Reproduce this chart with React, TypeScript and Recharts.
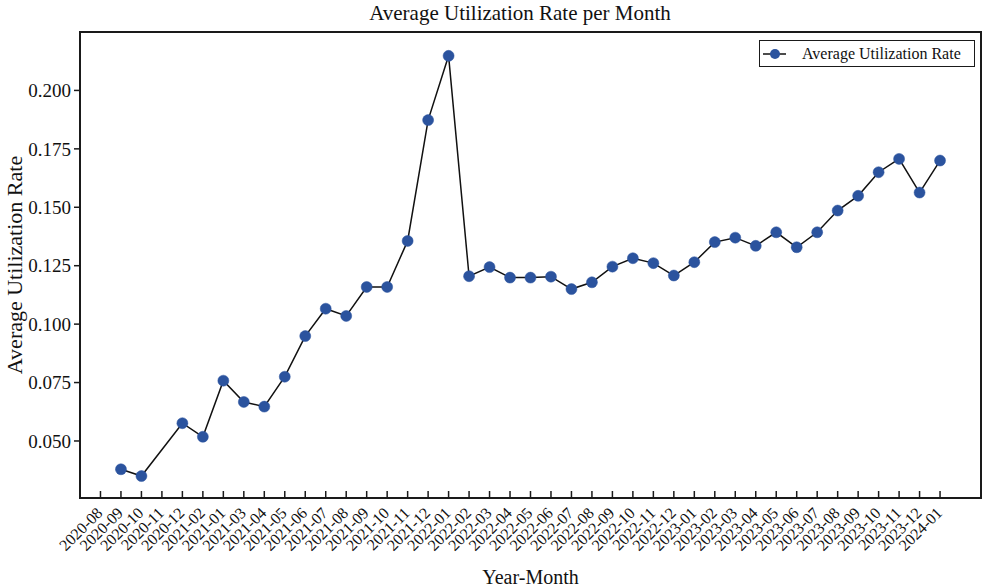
import React from 'react';
import { LineChart, Line, XAxis, YAxis, Legend, ReferenceArea } from 'recharts';

const tickLabels = [
  '2020-08', '2020-09', '2020-10', '2020-11', '2020-12',
  '2021-02', '2021-01', '2021-03', '2021-04', '2021-05', '2021-06', '2021-07', '2021-08', '2021-09', '2021-10', '2021-11', '2021-12',
  '2022-01', '2022-02', '2022-03', '2022-04', '2022-05', '2022-06', '2022-07', '2022-08', '2022-09', '2022-10', '2022-11', '2022-12',
  '2023-01', '2023-02', '2023-03', '2023-04', '2023-05', '2023-06', '2023-07', '2023-08', '2023-09', '2023-10', '2023-11', '2023-12',
  '2024-01',
];

const pointMonths = [
  '2020-09', '2020-10', '2020-12',
  '2021-02', '2021-01', '2021-03', '2021-04', '2021-05', '2021-06', '2021-07', '2021-08', '2021-09', '2021-10', '2021-11', '2021-12',
  '2022-01', '2022-02', '2022-03', '2022-04', '2022-05', '2022-06', '2022-07', '2022-08', '2022-09', '2022-10', '2022-11', '2022-12',
  '2023-01', '2023-02', '2023-03', '2023-04', '2023-05', '2023-06', '2023-07', '2023-08', '2023-09', '2023-10', '2023-11', '2023-12',
  '2024-01',
];

const rates = [
  0.0379, 0.0350, 0.0576, 0.0518, 0.0758, 0.0667, 0.0647, 0.0775, 0.0949, 0.1066,
  0.1035, 0.1159, 0.1159, 0.1356, 0.1873, 0.2148, 0.1205, 0.1244, 0.1199, 0.1199,
  0.1203, 0.1150, 0.1179, 0.1246, 0.1282, 0.1261, 0.1208, 0.1265, 0.1351, 0.1370,
  0.1335, 0.1393, 0.1329, 0.1393, 0.1486, 0.1549, 0.1650, 0.1707, 0.1563, 0.1700,
];

const yTicks = [0.05, 0.075, 0.1, 0.125, 0.15, 0.175, 0.2];

const data = pointMonths.map((m, i) => ({ pos: tickLabels.indexOf(m), rate: rates[i] }));

const FONT = '"Liberation Serif", "Times New Roman", serif';
const DOT = '#2b539e';
const INK = '#1a1a1a';
const X_DOMAIN: [number, number] = [-1, 43];
const Y_DOMAIN: [number, number] = [0.0256, 0.225];

const XTick = (props: any) => {
  const { x, y, payload } = props;
  const px = x + 3;
  const py = y + 16;
  return (
    <g>
      <line x1={x} y1={y} x2={x} y2={y - 7} stroke={INK} strokeWidth={1.5} />
      <text
        x={px}
        y={py}
        transform={`rotate(-45 ${px} ${py})`}
        textAnchor="end"
        fontSize={16}
        fontFamily={FONT}
        fill="#111"
      >
        {tickLabels[payload.value]}
      </text>
    </g>
  );
};

const LegendBox = () => (
  <div
    style={{
      border: `1.5px solid ${INK}`,
      width: 216,
      height: 27,
      boxSizing: 'border-box',
      display: 'flex',
      alignItems: 'center',
      background: '#fff',
      fontFamily: FONT,
    }}
  >
    <svg width={36} height={20} style={{ display: 'block' }}>
      <line x1={3} y1={10} x2={26} y2={10} stroke="#111" strokeWidth={1.5} />
      <circle cx={15} cy={10} r={5} fill={DOT} />
    </svg>
    <span style={{ fontSize: 16, marginLeft: 6, color: '#111', whiteSpace: 'nowrap' }}>
      Average Utilization Rate
    </span>
  </div>
);

export default function App() {
  return (
    <div style={{ position: 'absolute', left: 0, top: 0, width: 983, height: 588, background: '#fff' }}>
      <div
        style={{
          position: 'absolute',
          left: 270,
          top: 1,
          width: 500,
          textAlign: 'center',
          fontFamily: FONT,
          fontSize: 21,
          color: '#111',
          lineHeight: '24px',
        }}
      >
        Average Utilization Rate per Month
      </div>
      <LineChart
        width={983}
        height={588}
        data={data}
        margin={{ top: 32, right: 2, bottom: 0, left: 0 }}
        style={{ fontFamily: FONT }}
      >
        <XAxis
          type="number"
          dataKey="pos"
          domain={X_DOMAIN}
          ticks={tickLabels.map((_, i) => i)}
          interval={0}
          allowDataOverflow
          height={90}
          tickSize={0}
          tickMargin={0}
          tickLine={false}
          tick={<XTick />}
          axisLine={{ stroke: INK, strokeWidth: 2 }}
          label={{ value: 'Year-Month', position: 'insideBottom', offset: 4, fontSize: 20, fill: '#111', fontFamily: FONT }}
        />
        <YAxis
          type="number"
          domain={Y_DOMAIN}
          ticks={yTicks}
          allowDataOverflow
          width={80}
          tickSize={6}
          tickMargin={3}
          tickFormatter={(v: number) => v.toFixed(3)}
          tick={{ fontSize: 19, fill: '#111', fontFamily: FONT }}
          tickLine={{ stroke: INK, strokeWidth: 1.5 }}
          axisLine={{ stroke: INK, strokeWidth: 2 }}
          label={{
            value: 'Average Utilization Rate',
            angle: -90,
            position: 'insideLeft',
            offset: 14,
            fontSize: 22,
            fill: '#111',
            fontFamily: FONT,
            style: { textAnchor: 'middle' },
          }}
        />
        <ReferenceArea
          x1={X_DOMAIN[0]}
          x2={X_DOMAIN[1]}
          y1={Y_DOMAIN[0]}
          y2={Y_DOMAIN[1]}
          fill="none"
          fillOpacity={0}
          stroke={INK}
          strokeWidth={2}
          ifOverflow="visible"
        />
        <Line
          type="linear"
          dataKey="rate"
          name="Average Utilization Rate"
          stroke="#111"
          strokeWidth={1.5}
          dot={{ r: 5.5, fill: DOT, stroke: DOT, strokeWidth: 0.5 }}
          activeDot={false}
          isAnimationActive={false}
        />
        <Legend
          layout="horizontal"
          verticalAlign="middle"
          align="center"
          content={<LegendBox />}
          wrapperStyle={{ top: 40, left: 759, width: 216, height: 27 }}
        />
      </LineChart>
    </div>
  );
}
